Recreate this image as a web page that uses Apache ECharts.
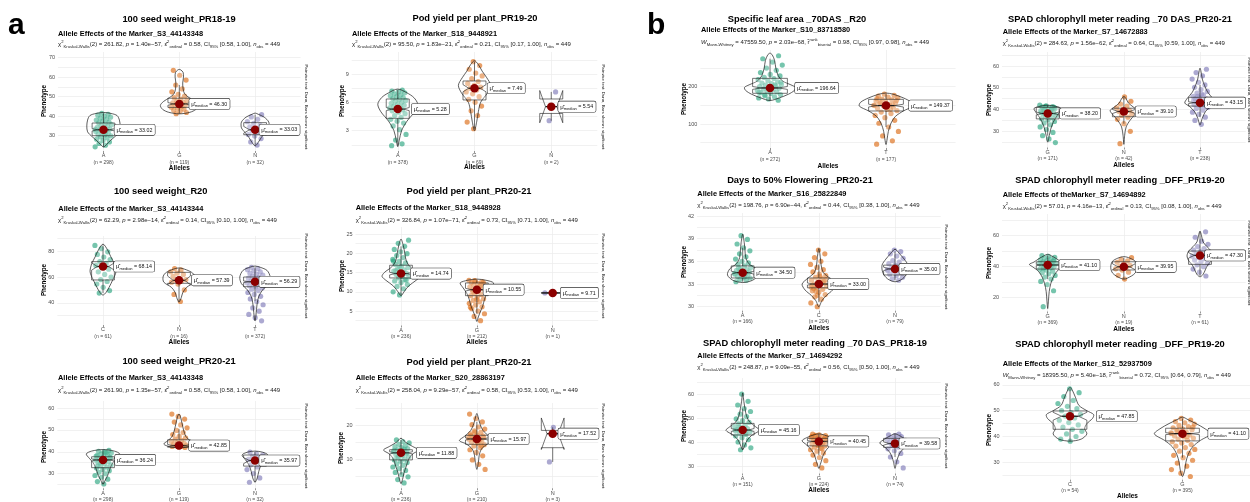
<!DOCTYPE html>
<html><head><meta charset="utf-8">
<script src="https://cdn.jsdelivr.net/npm/echarts@6/dist/echarts.min.js"></script>
<style>html,body{margin:0;padding:0;background:#fff}#c{width:1250px;height:502px}</style>
</head><body><div id="c"></div>
<script>
// ================= DATA =================
const panelTitles = ['100 seed weight_PR18-19','Pod yield per plant_PR19-20','100 seed weight_R20','Pod yield per plant_PR20-21','100 seed weight_PR20-21','Pod yield per plant_PR20-21','Specific leaf area _70DAS _R20','SPAD chlorophyll meter reading _70 DAS_PR20-21','Days to 50% Flowering _PR20-21','SPAD chlorophyll meter reading _DFF_PR19-20','SPAD chlorophyll meter reading _70 DAS_PR18-19','SPAD chlorophyll meter reading _DFF_PR19-20'];
const markerTitles = ['Allele Effects of the Marker_S3_44143348','Allele Effects of the Marker_S18_9448921','Allele Effects of the Marker_S3_44143344','Allele Effects of the Marker_S18_9448928','Allele Effects of the Marker_S3_44143348','Allele Effects of the Marker_S20_28863197','Allele Effects of the Marker_S10_83718580','Allele Effects of the Marker_S7_14672883','Allele Effects of the Marker_S16_25822849','Allele Effects of theMarker_S7_14694892','Allele Effects of the Marker_S7_14694292','Allele Effects of the Marker_S12_52937509'];
const testType = ['kw','kw','kw','kw','kw','kw','mw','kw','kw','kw','kw','mw'];
const testStat = ['261.82','95.50','62.29','326.84','261.90','258.04','47559.50','284.63','198.76','57.01','248.87','18395.50'];
const pValues = ['1.40e\u221257','1.83e\u221221','2.98e\u221214','1.07e\u221271','1.35e\u221257','9.29e\u221257','2.03e\u221268','1.56e\u221262','6.90e\u221244','4.16e\u221213','9.09e\u221255','5.40e\u221218'];
const effectSize = ['0.58','0.21','0.14','0.73','0.58','0.58','0.98','0.64','0.44','0.13','0.56','0.72'];
const ciLow = ['0.58','0.17','0.10','0.71','0.58','0.53','0.97','0.59','0.38','0.08','0.50','0.64'];
const ciHigh = ['1.00','1.00','1.00','1.00','1.00','1.00','0.98','1.00','1.00','1.00','1.00','0.79'];
const nObs = 449;

const cats = [['A','G','N'],['A','G','N'],['C','N','T'],['A','G','N'],['A','G','N'],['A','G','N'],['A','T'],['G','N','T'],['A','C','N'],['G','N','T'],['A','G','N'],['C','G']];
const nCounts = [[298,119,32],[378,69,2],[61,16,372],[236,212,1],[298,119,32],[236,210,3],[272,177],[171,42,238],[166,204,79],[369,19,61],[151,224,74],[54,395]];
const medians = [[33.02,46.30,33.03],[5.28,7.49,5.54],[68.14,57.39,56.29],[14.74,10.55,9.71],[36.24,42.85,35.97],[11.88,15.97,17.52],[196.64,149.37],[38.20,39.10,43.15],[34.50,33.00,35.00],[41.10,39.95,47.30],[45.16,40.45,39.58],[47.85,41.10]];

const yRanges = [[22.15,72.92],[0.84,11.33],[22.79,91.78],[1.25,26.83],[23.25,63.29],[1.44,26.58],[35.7,298.4],[22.56,66.43],[29.47,42.4],[11.1,74],[27.19,66.65],[23.26,61.51]];
const yMajor = [[30,40,50,60,70],[3,6,9],[40,60,80],[5,10,15,20,25],[30,40,50,60],[10,20],[100,200],[30,40,50,60],[30,33,36,39,42],[20,40,60],[30,40,50,60],[30,40,50,60]];
const yMinor = [[25,35,45,55,65],[1.5,4.5,7.5,10.5],[30,50,70,90],[2.5,7.5,12.5,17.5,22.5],[25,35,45,55],[5,15,25],[50,150,250],[25,35,45,55,65],[31.5,34.5,37.5,40.5],[30,50,70],[35,45,55,65],[25,35,45,55]];

const pts_a1 = [
 [24.3,25.1,26.0,26.8,27.5,28.2,28.9,29.4,29.9,30.3,30.8,31.2,31.7,32.1,32.6,33.0,33.4,33.9,34.3,34.8,35.2,35.7,36.1,36.6,37.0,37.5,38.0,38.5,39.0,39.5,40.0,40.5,41.0,41.5,33.2,31.0],
 [41.3,41.9,42.5,43.0,43.6,44.1,44.6,45.0,45.5,45.9,46.3,46.8,47.2,47.7,48.2,48.8,49.5,50.3,51.2,52.5,54.0,56.0,58.5,61.0,63.5],
 [25.2,26.8,28.5,29.8,30.6,31.5,32.4,33.0,33.6,34.5,35.4,36.3,37.2,38.4,39.6,40.8]];
const pts_a2 = [
 [1.4,1.6,2.0,2.6,3.1,3.5,3.8,4.0,4.2,4.4,4.6,4.8,4.95,5.1,5.2,5.3,5.4,5.5,5.6,5.7,5.8,5.9,6.0,6.1,6.2,6.3,6.4,6.5,6.6,6.7,6.8,6.9,7.0,7.1,7.2,7.3],
 [3.2,3.9,4.6,5.1,5.6,6.0,6.3,6.6,6.9,7.1,7.3,7.5,7.6,7.8,8.0,8.2,8.5,8.8,9.1,9.5,9.9,10.3],
 [7.1,4.05]];
const pts_a3 = [
 [47.5,49.5,52.0,54.5,56.5,58.0,60.0,62.0,64.0,66.0,67.5,69.0,70.5,72.0,73.5,75.5,77.5,79.5,82.0,84.5],
 [41.0,46.5,50.0,54.5,56.0,57.0,57.4,58.0,59.0,60.5,62.0,63.0,64.0,65.5,66.5],
 [26.0,28.5,31.0,33.5,36.0,38.5,41.0,43.0,45.0,46.5,48.0,49.5,50.5,51.5,52.5,53.3,54.0,54.8,55.5,56.3,57.0,57.7,58.4,59.1,59.8,60.6,61.4,62.2,63.0,63.9,64.8,65.7,66.6,67.5,55.0,58.0]];
const pts_a4 = [
 [9.2,10.0,10.8,11.4,11.9,12.4,12.8,13.2,13.6,13.9,14.2,14.5,14.8,15.1,15.4,15.7,16.0,16.3,16.7,17.1,17.5,17.9,18.4,18.9,19.4,19.9,20.4,21.0,21.8,22.6,23.4,14.0,15.5,13.0,16.5,18.0],
 [2.5,3.6,4.3,5.0,5.6,6.1,6.6,7.0,7.4,7.8,8.2,8.6,9.0,9.3,9.6,9.9,10.2,10.5,10.8,11.0,11.3,11.5,11.8,12.0,12.2,12.4,12.6,12.8,13.0,11.2,10.0,12.5,8.0,6.0,11.9,12.9],
 [9.71]];
const pts_a5 = [
 [25.2,26.3,27.4,28.3,29.1,29.9,30.6,31.3,31.9,32.5,33.0,33.5,34.0,34.5,35.0,35.4,35.8,36.2,36.6,37.0,37.4,37.8,38.2,38.6,39.0,39.4,39.8,40.2,40.6,36.0,38.0,39.5,34.8,37.2,40.0,33.5],
 [42.0,42.2,42.4,42.6,42.8,43.0,43.3,43.6,43.9,44.3,44.7,45.2,45.8,46.4,47.1,47.9,48.8,49.8,51.0,52.3,53.6,55.0,56.2,57.3],
 [26.0,28.0,30.0,31.8,33.0,34.0,35.0,35.8,36.5,37.2,37.9,38.6,39.2,39.8]];
const pts_a6 = [
 [3.0,4.0,4.8,5.5,6.1,6.7,7.2,7.7,8.2,8.6,9.0,9.4,9.8,10.1,10.4,10.7,11.0,11.3,11.6,11.9,12.2,12.5,12.8,13.1,13.4,13.7,14.0,14.4,14.8,15.2,15.7,12.0,11.5,12.6,13.0,10.8],
 [7.0,8.5,9.8,11.0,12.0,12.8,13.4,13.9,14.3,14.7,15.0,15.3,15.6,15.9,16.2,16.5,16.8,17.1,17.5,17.9,18.4,18.9,19.5,20.2,21.0,22.0,23.3,15.5,16.0,16.4,15.0,17.0,14.0,18.0,16.6,15.8],
 [9.2,17.52,19.4]];
const pts_b1 = [
 [164,167,170,173,176,179,182,184,186,188,190,192,194,196,198,200,202,204,206,208,210,213,216,219,222,225,229,233,238,244,250,258,266,275,283,195,185,205,178,212],
 [46,55,68,80,92,102,110,117,123,128,132,136,139,142,145,148,150,152,155,157,160,162,165,167,170,172,175,177,180,150,140,158,163,146,168,153]];
const pts_b2 = [
 [24.8,26.5,28.0,29.5,30.8,32.0,33.0,33.8,34.5,35.2,35.8,36.3,36.8,37.3,37.8,38.2,38.6,39.0,39.4,39.8,40.2,40.5,40.8,41.1,41.4,41.7,42.0,39.0,40.0,41.0,37.0,38.5,40.6,41.5],
 [24.3,30.0,33.5,35.5,36.5,37.3,38.0,38.7,39.1,39.6,40.2,40.8,41.6,42.5,43.8,45.8],
 [33.2,35.0,36.5,37.8,38.8,39.7,40.5,41.2,41.8,42.3,42.8,43.2,43.6,44.0,44.5,45.0,45.5,46.1,46.8,47.5,48.3,49.2,50.2,51.3,52.5,54.0,55.5,57.0,58.5,43.0,44.2,42.0,46.0,41.0,47.0,45.0]];
const pts_b3 = [
 [33.3,33.5,33.6,33.8,33.9,34.0,34.1,34.2,34.3,34.4,34.5,34.6,34.7,34.8,34.9,35.0,35.2,35.4,35.6,35.8,36.0,36.3,36.6,37.0,37.4,37.8,38.3,38.9,39.4,34.4,34.0,35.1],
 [30.0,30.5,31.0,31.3,31.6,31.9,32.1,32.3,32.5,32.7,32.9,33.0,33.1,33.3,33.5,33.7,33.9,34.1,34.3,34.6,34.9,35.2,35.6,36.0,36.5,37.0,37.5,32.8,33.2,32.0,33.6,34.0,32.4,33.4,31.5,32.6],
 [33.5,33.7,33.9,34.1,34.3,34.5,34.7,34.9,35.0,35.1,35.3,35.5,35.7,35.9,36.1,36.4,36.7,37.0,37.3,37.5,34.8,35.2]];
const pts_b4 = [
 [14.2,24.5,28.5,30.5,32.0,33.3,34.4,35.4,36.3,37.1,37.8,38.5,39.1,39.7,40.2,40.7,41.1,41.5,41.9,42.3,42.7,43.1,43.5,44.0,44.5,45.0,45.5,46.0,46.6,47.2,41.0,40.0,42.0,43.0,39.0,44.0],
 [32.0,34.5,36.5,37.8,38.6,39.4,40.0,40.8,41.8,42.8,43.8,44.8,45.8],
 [34.0,36.5,38.5,40.0,41.2,42.3,43.3,44.3,45.2,46.0,46.8,47.5,48.2,49.0,49.8,50.7,51.7,53.0,54.5,56.5,59.0,62.5]];
const pts_b5 = [
 [37.0,37.8,39.0,40.2,41.2,42.0,42.7,43.3,43.9,44.4,44.9,45.3,45.7,46.1,46.6,47.1,47.7,48.3,49.0,49.8,50.7,51.7,52.8,54.0,55.5,57.0,60.0,45.0,44.0,46.4],
 [29.5,31.0,32.5,33.8,34.8,35.7,36.4,37.0,37.6,38.1,38.6,39.0,39.4,39.8,40.2,40.5,40.8,41.1,41.4,41.7,42.0,42.3,42.6,42.9,43.2,43.5,40.0,41.0,42.0,39.5,40.6,41.6,38.8,42.4,37.4,43.0],
 [29.5,32.0,34.0,35.5,36.6,37.4,38.1,38.7,39.2,39.6,40.0,40.4,40.8,41.2,41.6,42.0,42.4,42.8,43.2,43.5,39.0,40.6]];
const pts_b6 = [
 [38.2,39.0,40.0,41.0,42.0,42.8,43.6,44.5,45.4,46.3,47.2,47.9,48.6,49.3,50.0,50.8,51.7,52.8,54.0,55.5,57.0,58.5],
 [24.5,25.8,27.2,28.5,29.7,30.8,31.8,32.7,33.5,34.3,35.0,35.7,36.3,36.9,37.5,38.0,38.5,39.0,39.4,39.8,40.2,40.6,41.0,41.4,41.8,42.2,42.6,43.0,43.4,43.8,44.3,44.8,45.3,45.8,46.4,47.0,41.2,40.0,42.4,43.6]];

// violin density profiles: [value, half-width in axis units]
const vio_a1 = [
 [[24.2,0],[25.5,0.04],[27.5,0.09],[29.5,0.15],[32,0.21],[35,0.22],[38,0.21],[40.3,0.18],[41.4,0.1],[41.9,0]],
 [[41.2,0],[42,0.14],[43.5,0.22],[45.5,0.25],[47.5,0.21],[49.5,0.13],[51.5,0.07],[54,0.05],[57,0.045],[60,0.055],[62.5,0.05],[63.7,0.02],[64,0]],
 [[24.8,0],[26.5,0.04],[29,0.08],[31.5,0.13],[34,0.18],[37,0.18],[39.5,0.12],[41,0.04],[41.6,0]]];
const vio_a2 = [
 [[1.3,0],[2,0.02],[3,0.05],[4,0.12],[5,0.22],[5.8,0.26],[6.5,0.21],[7,0.12],[7.4,0]],
 [[3.0,0],[4,0.03],[5,0.05],[6,0.08],[7,0.17],[7.8,0.21],[8.6,0.16],[9.3,0.1],[10,0.05],[10.4,0]],
 null];
const vio_a3 = [
 [[46,0],[48,0.04],[52,0.08],[58,0.13],[64,0.17],[70,0.15],[76,0.1],[81,0.06],[85.5,0]],
 [[40.5,0],[44,0.03],[48,0.05],[52,0.1],[56,0.2],[60,0.21],[63,0.18],[65.5,0.1],[67,0]],
 [[26,0],[30,0.012],[35,0.02],[40,0.03],[45,0.05],[50,0.1],[55,0.18],[60,0.2],[65,0.16],[67.5,0.07],[68.5,0]]];
const vio_a4 = [
 [[9,0],[10,0.04],[11.5,0.1],[13,0.2],[14,0.25],[15,0.22],[16.5,0.12],[18,0.07],[20,0.05],[22,0.03],[23.7,0]],
 [[2.3,0],[3.5,0.02],[5,0.05],[6.5,0.08],[8,0.1],[9.5,0.13],[11,0.18],[12.3,0.22],[13,0.12],[13.3,0]],
 null];
const vio_a5 = [
 [[25,0],[27,0.03],[29,0.06],[31,0.08],[33,0.1],[35,0.13],[37,0.18],[39,0.22],[40.3,0.15],[41,0]],
 [[41.8,0],[42.3,0.12],[43.5,0.2],[45,0.15],[47,0.09],[50,0.06],[53,0.04],[56,0.02],[57.3,0]],
 [[26,0],[28,0.03],[31,0.05],[34,0.08],[36.5,0.13],[38.5,0.17],[39.8,0.1],[40.3,0]]];
const vio_a6 = [
 [[2.8,0],[4,0.02],[6,0.04],[8,0.07],[10,0.1],[11.5,0.15],[12.7,0.23],[13.8,0.15],[15,0.06],[16.2,0]],
 [[7,0],[9,0.02],[11,0.03],[13,0.06],[14.5,0.14],[15.5,0.23],[16.8,0.16],[18.5,0.08],[20.5,0.04],[23,0.01],[23.5,0]],
 null];
const vio_b1 = [
 [[163,0],[170,0.08],[180,0.16],[190,0.21],[198,0.22],[205,0.18],[215,0.11],[230,0.07],[250,0.05],[270,0.04],[285,0.02],[290,0]],
 [[45,0],[60,0.01],[80,0.02],[100,0.04],[120,0.08],[135,0.15],[148,0.23],[158,0.22],[170,0.15],[180,0.06],[183,0]]];
const vio_b2 = [
 [[25,0],[28,0.02],[31,0.04],[34,0.07],[36.5,0.11],[39,0.16],[40.5,0.18],[41.5,0.1],[42,0]],
 [[24,0],[28,0.01],[32,0.03],[35,0.08],[37.5,0.14],[39.5,0.18],[41,0.13],[43,0.06],[45,0.03],[46,0]],
 [[33,0],[36,0.03],[39,0.07],[41.5,0.14],[43,0.2],[45,0.17],[48,0.1],[51,0.06],[54,0.03],[58,0.01],[59,0]]];
const vio_b3 = [
 [[33.2,0],[33.5,0.13],[34.2,0.2],[35,0.17],[35.7,0.08],[36.5,0.04],[37.5,0.03],[38.5,0.02],[39.6,0]],
 [[30,0],[30.8,0.04],[31.5,0.1],[32.2,0.18],[33,0.22],[33.8,0.14],[34.5,0.06],[35.5,0.03],[36.5,0.02],[37.7,0]],
 [[33.3,0],[33.7,0.1],[34.5,0.16],[35.5,0.17],[36.3,0.12],[37,0.06],[37.6,0]]];
const vio_b4 = [
 [[13,0],[18,0.01],[24,0.02],[29,0.04],[33,0.07],[37,0.12],[40,0.2],[41.5,0.24],[43,0.18],[45,0.12],[47,0.05],[48,0]],
 [[32,0],[34,0.1],[36,0.15],[38.5,0.17],[41,0.17],[43.5,0.15],[45.5,0.08],[46.5,0]],
 [[33.5,0],[35,0.04],[38,0.07],[41,0.1],[44,0.15],[47,0.17],[50,0.15],[53,0.09],[56,0.04],[60,0.02],[63,0]]];
const vio_b5 = [
 [[37,0],[39,0.03],[41,0.06],[43,0.12],[45,0.22],[46.5,0.17],[48.5,0.09],[51,0.05],[54,0.03],[57,0.015],[60.5,0]],
 [[29.3,0],[31,0.02],[33,0.04],[35,0.06],[37,0.1],[39,0.16],[40.7,0.22],[42,0.16],[43.2,0.06],[43.6,0]],
 [[29.3,0],[32,0.02],[34,0.04],[36,0.07],[38,0.13],[39.8,0.2],[41.3,0.14],[42.8,0.06],[43.6,0]]];
const vio_b6 = [
 [[38.2,0],[39,0.1],[41,0.15],[43,0.13],[45,0.15],[47,0.2],[48.5,0.21],[50,0.15],[52,0.08],[55,0.05],[58,0.02],[59,0]],
 [[24.5,0],[27,0.02],[30,0.03],[33,0.05],[36,0.09],[38.5,0.16],[41,0.25],[43,0.2],[45,0.12],[46.5,0.05],[47.5,0]]];

// box statistics: [lower whisker, Q1, Q3, upper whisker]
const box_a1 = [[24.3,30.0,36.5,41.5],[41.3,44.5,49.2,56.0],[25.2,30.5,36.7,40.8]];
const box_a2 = [[1.4,4.3,6.35,7.3],[3.2,6.25,8.26,10.3],[4.05,4.82,6.35,7.1]];
const box_a3 = [[47.5,57.7,71.9,84.5],[41.0,55.1,63.6,66.5],[41.5,52.5,60.0,67.5]];
const box_a4 = [[9.2,13.6,16.9,21.8],[4.3,9.0,12.3,13.0],[9.71,9.71,9.71,9.71]];
const box_a5 = [[25.2,32.7,37.7,40.6],[42.0,42.1,45.5,50.3],[26.0,33.4,38.5,39.8]];
const box_a6 = [[5.5,9.8,12.8,15.7],[11.0,14.4,17.05,21.0],[9.2,13.4,18.5,19.4]];
const box_b1 = [[164,182.3,222.4,275],[92,134.9,166.2,180]];
const box_b2 = [[28.0,35.7,41.0,42.0],[33.5,36.7,40.6,45.8],[36.5,41.6,45.6,51.3]];
const box_b3 = [[33.3,33.8,35.4,37.8],[30.6,32.5,33.8,35.6],[33.5,34.2,35.5,37.3]];
const box_b4 = [[32.0,38.5,43.2,47.2],[32.0,37.9,43.2,45.8],[34.0,41.5,50.1,62.5]];
const box_b5 = [[37.0,43.1,47.9,54.0],[34.8,38.6,41.7,43.5],[34.0,38.0,41.7,43.5]];
const box_b6 = [[38.2,42.8,49.9,58.5],[31.8,38.3,43.2,47.0]];

const ptsSets = [pts_a1,pts_a2,pts_a3,pts_a4,pts_a5,pts_a6,pts_b1,pts_b2,pts_b3,pts_b4,pts_b5,pts_b6];
const vioSets = [vio_a1,vio_a2,vio_a3,vio_a4,vio_a5,vio_a6,vio_b1,vio_b2,vio_b3,vio_b4,vio_b5,vio_b6];
const boxSets = [box_a1,box_a2,box_a3,box_a4,box_a5,box_a6,box_b1,box_b2,box_b3,box_b4,box_b5,box_b6];

// ================= LAYOUT =================
const gridBox = [[58,52,300.6,151],[351.7,52,597.3,151],[57.4,236,300.6,325],[355.5,227,598.2,325.5],[57.4,401,300.6,493.5],[355.5,403,598.2,493.5],[700.4,50,955.6,148],[1002,52,1245.7,147.5],[697,213,940.7,310.7],[1002,214,1245.7,311.5],[697,378,940.7,473.5],[1002.5,381,1252.5,479.7]];
const titlePos = [[179,19],[475,18],[160.7,191],[469,191],[179,361.7],[469,362.3],[797,19],[1120,19],[800,180],[1120,180],[815,343.3],[1120,344]];
const subPos = [[58,34],[352,34],[58.3,209],[355.7,208.3],[58,377.7],[355.7,378.3],[701,30],[1002.7,32.3],[697.3,194.3],[1002.7,195],[697.3,356],[1002.7,364]];
const statPos = [[58,44.5],[352,44.5],[58,220],[355.7,220],[58,390],[355.7,390],[701,42.3],[1002.7,43.3],[697.3,205.7],[1002.7,206.7],[697.3,367.3],[1002.7,375]];
const phenoPos = [[44,101],[342,101],[44,280],[342.7,276],[44,447],[341.7,448],[684,99],[989.3,100],[684,262],[989,263],[684,426],[989,430]];
const alleleY = [168,167.7,342.7,342.7,508,508,166.7,165,328.3,329,490.7,496.7];
const captionPos = [[306,107],[603,107],[306,276],[603,276],[306,446],[603,446],null,[1249,100],[946,267],[1249,263],[946,426],null];
const labelGap = [[11,10,4],[14,13,7],[11,12.7,4],[9.7,6.6,8],[12,10,4],[15.7,11.6,5.6],[25,23],[12.3,11.7,5],[11.6,9.3,4.3],[11.6,11.7,5],[16,9.3,4.3],[26.6,25.7]];

// ================= BUILD =================
const FONT = '"Liberation Sans", Arial, Helvetica, sans-serif';
const COLORS = ['#1B9E77','#D95F02','#7570B3'];
function jitter(i, gi, p) { const f = (i * 0.6180339887 + gi * 0.31 + p * 0.137) % 1; return (f - 0.5) * 0.22; }

function makeRender(p) {
  return function (params, api) {
    const gi = params.dataIndex;
    const cx = gi + 1;
    const ch = [];
    const prof = vioSets[p][gi];
    if (prof) {
      const right = prof.map(d => api.coord([cx + d[1], d[0]]));
      const inner = prof.slice(1, -1).reverse().map(d => api.coord([cx - d[1], d[0]]));
      ch.push({type:'polygon', shape:{points: right.concat(inner), smooth: 0.3},
        style:{fill:'rgba(255,255,255,0.2)', stroke:'#1a1a1a', lineWidth:0.7}});
    }
    const b = boxSets[p][gi];
    const lo = b[0], q1 = b[1], q3 = b[2], hi = b[3];
    const med = medians[p][gi];
    const nd = 1.58 * (q3 - q1) / Math.sqrt(nCounts[p][gi]);
    const hw = 0.15, ind = 0.075;
    const c = (x, y) => api.coord([x, y]);
    const lo1 = c(cx, lo), q1p = c(cx, q1), q3p = c(cx, q3), hi1 = c(cx, hi);
    ch.push({type:'line', shape:{x1:lo1[0], y1:lo1[1], x2:q1p[0], y2:q1p[1]}, style:{stroke:'#1a1a1a', lineWidth:0.6}});
    ch.push({type:'line', shape:{x1:q3p[0], y1:q3p[1], x2:hi1[0], y2:hi1[1]}, style:{stroke:'#1a1a1a', lineWidth:0.6}});
    const bp = [[cx-hw,q1],[cx-hw,med-nd],[cx-hw+ind,med],[cx-hw,med+nd],[cx-hw,q3],[cx+hw,q3],[cx+hw,med+nd],[cx+hw-ind,med],[cx+hw,med-nd],[cx+hw,q1]].map(d => c(d[0], d[1]));
    ch.push({type:'polygon', shape:{points: bp}, style:{fill:'rgba(255,255,255,0.2)', stroke:'#1a1a1a', lineWidth:0.6}});
    const m1 = c(cx-hw+ind, med), m2 = c(cx+hw-ind, med);
    ch.push({type:'line', shape:{x1:m1[0], y1:m1[1], x2:m2[0], y2:m2[1]}, style:{stroke:'#1a1a1a', lineWidth:1.3}});
    return {type:'group', children: ch};
  };
}

function statLine(p) {
  const tail = `{b| = ${effectSize[p]}, CI}{sub|95%}{b| [${ciLow[p]}, ${ciHigh[p]}], }{i|n}{sub|obs}{b| = ${nObs}}`;
  if (testType[p] === 'kw')
    return `{b|\u03C7}{sup|2}{sub|Kruskal-Wallis}{b|(2) = ${testStat[p]}, }{i|p}{b| = ${pValues[p]}, \u03B5\u0302}{sup|2}{sub|ordinal}` + tail;
  return `{i|W}{sub|Mann-Whitney}{b| = ${testStat[p]}, }{i|p}{b| = ${pValues[p]}, r\u0302}{sup|rank}{sub|biserial}` + tail;
}
const statRich = {
  b:{fontSize:6, fontFamily:FONT, fill:'#1a1a1a', lineHeight:9},
  i:{fontSize:6, fontFamily:FONT, fontStyle:'italic', fill:'#1a1a1a', lineHeight:9},
  sup:{fontSize:4.2, fontFamily:FONT, fill:'#1a1a1a', verticalAlign:'top', lineHeight:5},
  sub:{fontSize:4.2, fontFamily:FONT, fill:'#1a1a1a', verticalAlign:'bottom', lineHeight:5}
};

const grids = [], xAxes = [], yAxes = [], series = [], els = [];
function txt(x, y, text, size, weight, align, extra) {
  const el = {type:'text', x:x, y:y, silent:true, z:100,
    style: Object.assign({text:text, fontSize:size, fontWeight:weight, fontFamily:FONT, fill:'#000', align:align, verticalAlign:'middle'}, extra || {})};
  els.push(el);
  return el;
}

for (let p = 0; p < 12; p++) {
  const g = gridBox[p];
  const nc = cats[p].length;
  const cv = cats[p].map((_, i) => i + 1);
  const yr = yRanges[p];
  const gridVals = yMajor[p].concat(yMinor[p]).filter(v => v >= yr[0] && v <= yr[1]).sort((a, b) => a - b);
  grids.push({left:g[0], top:g[1], width:g[2]-g[0], height:g[3]-g[1], containLabel:false});
  xAxes.push({gridIndex:p, type:'value', min:0.4, max:nc + 0.6,
    axisLine:{show:false},
    axisTick:{show:true, customValues:cv, length:2, lineStyle:{color:'#4d4d4d', width:0.6}},
    splitLine:{show:true, lineStyle:{color:'#ebebeb', width:0.7}},
    axisLabel:{customValues:cv, margin:1.5,
      formatter:(v) => { const i = Math.round(v) - 1; return `{c|${cats[p][i]}}\n{n|(n = ${nCounts[p][i]})}`; },
      rich:{c:{fontSize:5.5, color:'#4d4d4d', fontFamily:FONT, lineHeight:6.5}, n:{fontSize:5, color:'#4d4d4d', fontFamily:FONT, lineHeight:6.5}}}
  });
  yAxes.push({gridIndex:p, type:'value', min:yr[0], max:yr[1],
    axisLine:{show:false},
    axisTick:{show:false, customValues:gridVals},
    splitLine:{show:true, lineStyle:{color:'#ebebeb', width:0.7}},
    axisLabel:{customValues:yMajor[p].filter(v => v >= yr[0] && v <= yr[1]), fontSize:5.5, color:'#4d4d4d', fontFamily:FONT, margin:3}
  });
  cats[p].forEach((cName, gi) => {
    series.push({type:'scatter', name:panelTitles[p] + ' ' + cName, xAxisIndex:p, yAxisIndex:p, silent:true, z:2,
      symbolSize:5.2, itemStyle:{color:COLORS[gi], opacity:0.6},
      data: ptsSets[p][gi].map((v, i) => [gi + 1 + jitter(i, gi, p), v])});
  });
  series.push({type:'custom', xAxisIndex:p, yAxisIndex:p, silent:true, z:3, renderItem:makeRender(p),
    data: medians[p].map((m, gi) => [gi + 1, m])});
  series.push({type:'scatter', xAxisIndex:p, yAxisIndex:p, silent:true, z:4, symbolSize:8.5,
    itemStyle:{color:'#8B0000', opacity:1},
    data: medians[p].map((m, gi) => ({value:[gi + 1, m], label:{distance: Math.max(0, labelGap[p][gi] - 4.25)}})),
    label:{show:true, position:'right', color:'#111',
      formatter:(d) => `{m|\u03BC\u0302}{s|median}{t| = ${d.value[1].toFixed(2)}}`,
      backgroundColor:'#fff', borderColor:'#333', borderWidth:0.6, borderRadius:1.5, padding:[1.5,2.5,1,2],
      rich:{m:{fontSize:6, fontFamily:FONT, color:'#111', lineHeight:8}, s:{fontSize:4, fontFamily:FONT, color:'#111', verticalAlign:'bottom', lineHeight:5}, t:{fontSize:5.3, fontFamily:FONT, color:'#111', lineHeight:8}}}
  });

  // texts
  txt(titlePos[p][0], titlePos[p][1], panelTitles[p], 9.3, 'bold', 'center');
  txt(subPos[p][0], subPos[p][1], markerTitles[p], 7.4, 'bold', 'left');
  txt(statPos[p][0], statPos[p][1], statLine(p), 6, 'normal', 'left', {rich: statRich});
  const ph = txt(phenoPos[p][0], phenoPos[p][1], 'Phenotype', 6.3, 'bold', 'center');
  ph.rotation = Math.PI / 2;
  txt((g[0] + g[2]) / 2, alleleY[p], 'Alleles', 6.5, 'bold', 'center');
  if (captionPos[p]) {
    const cp = txt(captionPos[p][0], captionPos[p][1], 'Pairwise test: Dunn, Bars shown: significant', 4.4, 'normal', 'center', {fill:'#1a1a1a'});
    cp.rotation = -Math.PI / 2;
  }
}
txt(8, 26, 'a', 30, 'bold', 'left');
txt(647, 26, 'b', 30, 'bold', 'left');

const chart = echarts.init(document.getElementById('c'), null, {renderer:'canvas'});
chart.setOption({animation:false, backgroundColor:'#fff', grid:grids, xAxis:xAxes, yAxis:yAxes, series:series, graphic:{elements:els}});
</script></body></html>
